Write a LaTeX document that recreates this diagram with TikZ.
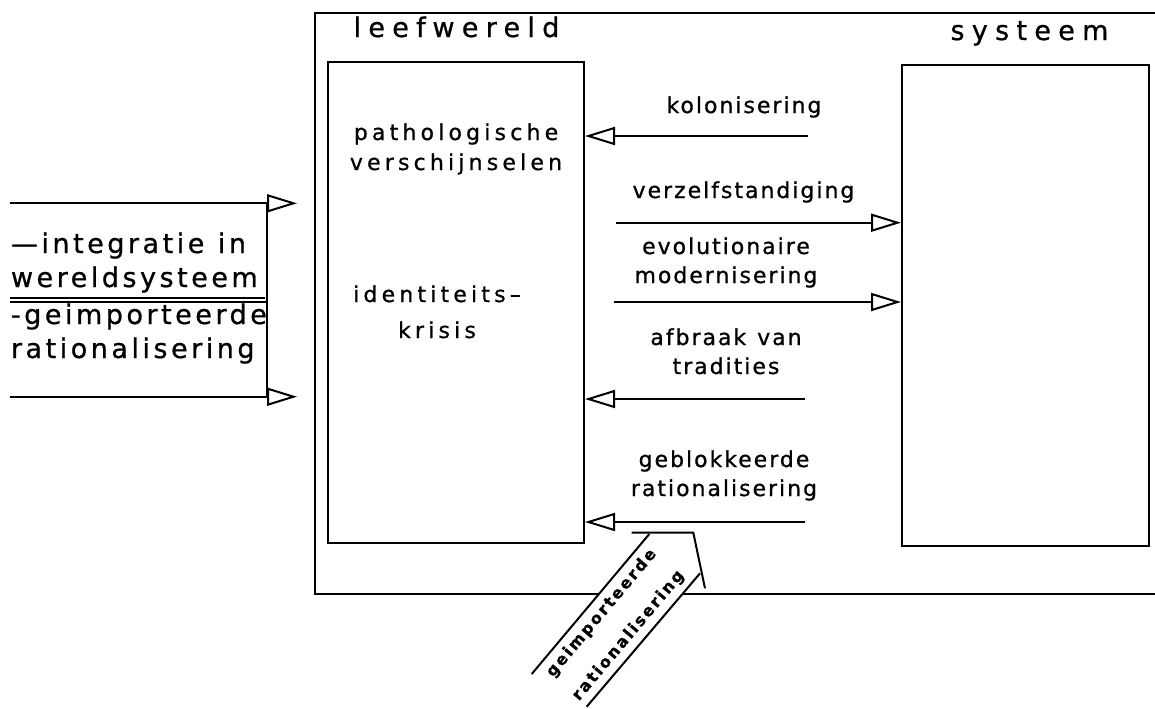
\documentclass[tikz,border=0pt]{standalone}
\usepackage{fontspec}
\setmainfont{DejaVu Sans}[FakeBold=0.8]
\usetikzlibrary{arrows.meta}

\begin{document}
\begin{tikzpicture}[x=0.5pt,y=-0.5pt,line width=1pt,
	arr/.style={-{Triangle[open,length=15pt,width=9pt]}},
	box/.style={draw,rectangle,inner sep=0pt,minimum height=240.5pt},
	ttl/.style={anchor=base,font=\fontsize{13.5}{16}\selectfont\addfontfeature{LetterSpace=27}},
	lbl/.style={anchor=base,align=center,font=\fontsize{11}{14.5}\selectfont\addfontfeature{LetterSpace=9}},
	inbox/.style={anchor=base,align=center,font=\fontsize{11}{15}\selectfont\addfontfeature{LetterSpace=19}},
	side/.style={anchor=base west,align=left,inner sep=0pt,font=\fontsize{13.5}{17}\selectfont\addfontfeature{LetterSpace=13}},
	diag/.style={rotate=50,inner sep=0pt,align=center,font=\bfseries\fontsize{8}{17.5}\selectfont\addfontfeature{LetterSpace=14}}]
\useasboundingbox (0,0) rectangle (1155,708);
%\draw[red] (0,0) rectangle (1155,708);
\draw (1155,13) -- (315,13) -- (315,594) -- (1155,594);
\node[box,minimum width=128pt] (LW) at (456,302.5) {};
\node[box,minimum width=123.5pt] (SY) at (1025.5,305.5) {};
\node[ttl] (tLW) at (456.5,37) {leefwereld};
\node[ttl] (tSY) at (1029.5,40) {systeem};
\node[inbox] (patho) at (456,170) {pathologische\\verschijnselen};
\node[inbox] (ident) at (437,338) {identiteits--\\[3pt]krisis};

\coordinate (k0) at (808,136);
\draw[arr] (k0) -- (k0 -| LW.east);
\node[lbl] (kolo) at (744,113) {kolonisering};
\coordinate (v0) at (616,222.7);
\draw[arr] (v0) -- (v0 -| SY.west);
\node[lbl] (verz) at (743.5,198) {verzelfstandiging};
\coordinate (e0) at (614,302);
\draw[arr] (e0) -- (e0 -| SY.west);
\node[lbl] (evo) at (726,283) {evolutionaire\\modernisering};
\coordinate (a0) at (805,399);
\draw[arr] (a0) -- (a0 -| LW.east);
\node[lbl] (afbr) at (726,374) {afbraak\enspace van\\tradities};
\coordinate (g0) at (805,522);
\draw[arr] (g0) -- (g0 -| LW.east);
\node[lbl] (gebl) at (724,496) {geblokkeerde\\rationalisering};

\coordinate (L1) at (10,203.3);
\coordinate (R1) at (297,203.3);
\coordinate (L2) at (10,396.7);
\coordinate (R2) at (297,396.7);
\draw[arr] (L1) -- (R1);
\draw[arr] (L2) -- (R2);
\draw (267,203.3) -- (267,396.7);
\draw (10,297.5) -- (265,297.5) (10,302) -- (267,302);
\node[side] (integ) at (10,287) {---integratie\enspace in\\wereldsysteem};
\node[side] (impo) at (10,358) {-geimporteerde\\rationalisering};

\fill[white] (531.7,674) -- (649.3,534) -- (693.3,532.7) -- (700,573.3) -- (586.7,706.7) -- cycle;
\draw (531.7,674) -- (649.3,534);
\draw (631.7,532.7) -- (693.3,532.7) -- (705,588.3);
\draw (700,573.3) -- (586.7,706.7);
\node[diag] (gimp) at (615,624.5) {geimporteerde\\rationalisering};
\end{tikzpicture}
\end{document}
